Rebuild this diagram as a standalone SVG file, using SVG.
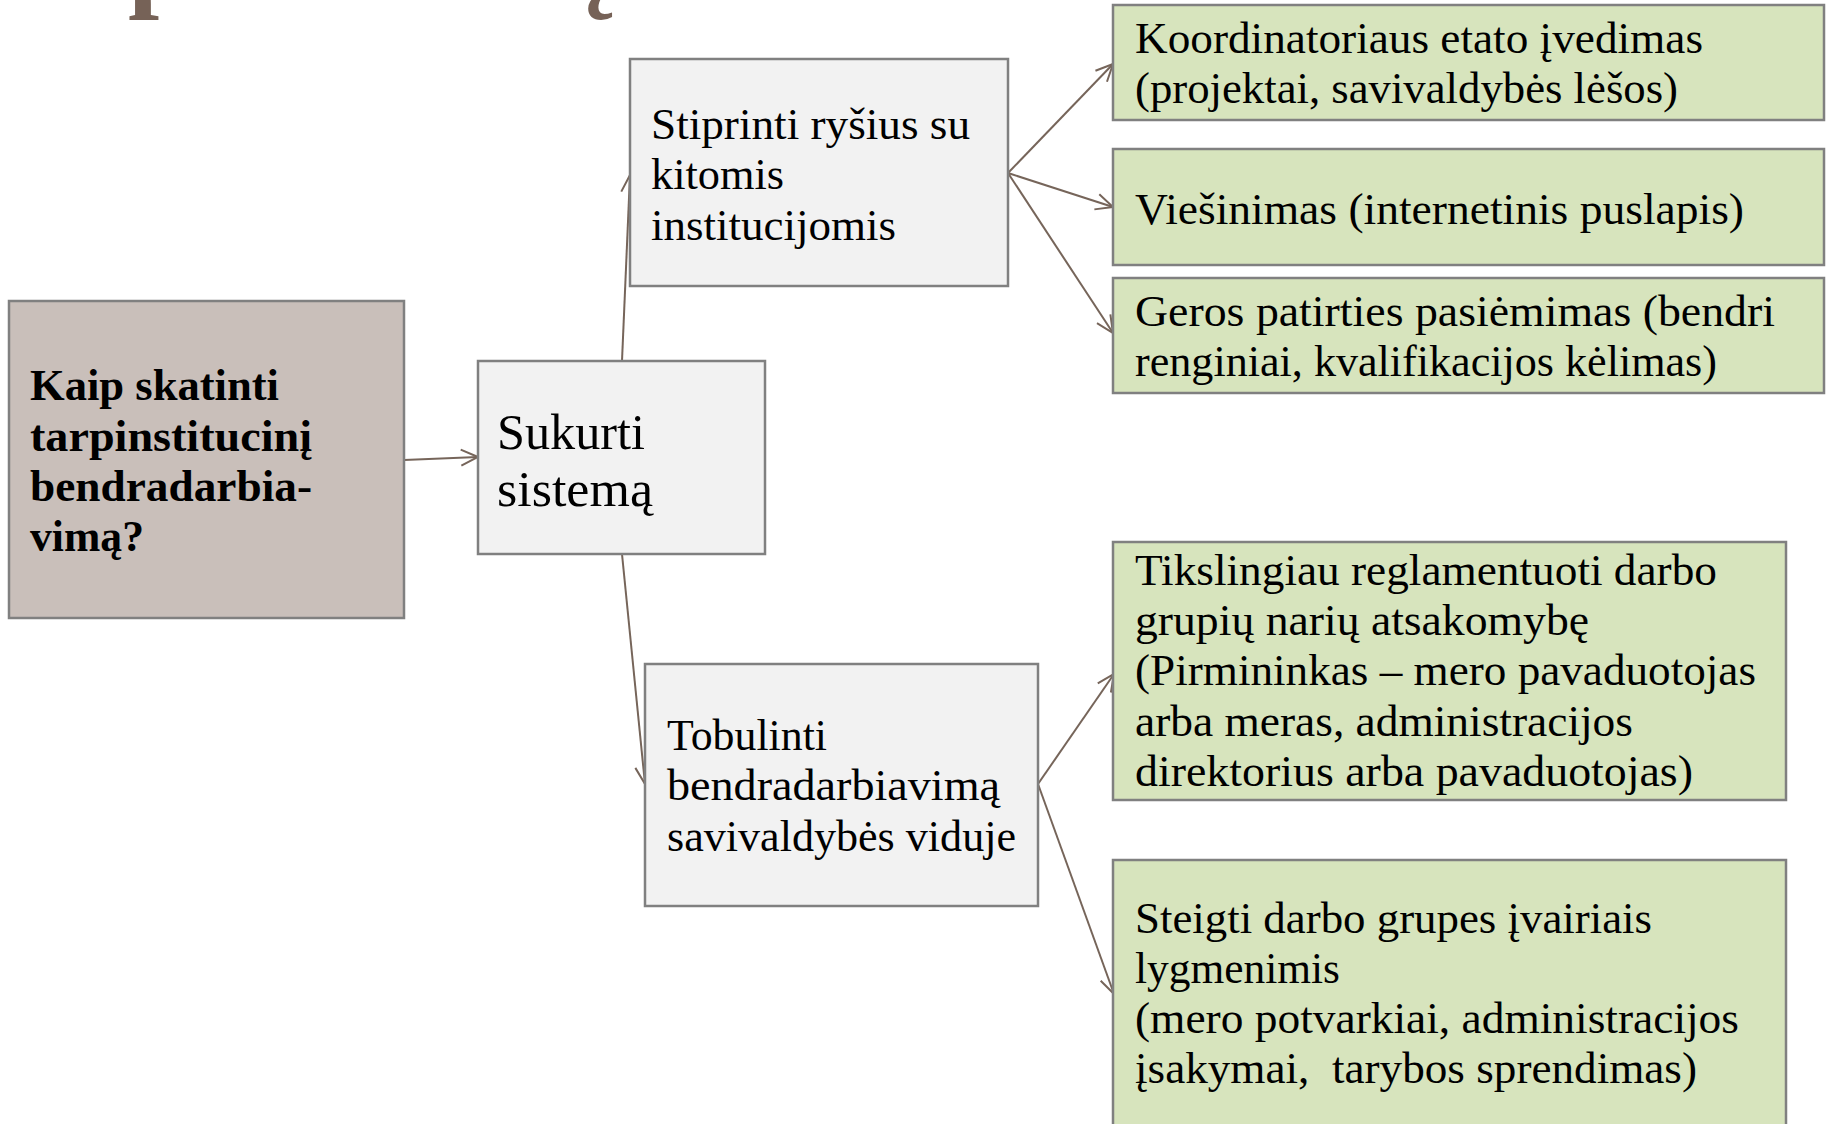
<svg xmlns="http://www.w3.org/2000/svg" width="1829" height="1124" viewBox="0 0 1829 1124">
<style>
.box{stroke:#808080;stroke-width:2.5}
.grey{fill:#F2F2F2}
.green{fill:#D7E4BD}
.main{fill:#C9BFBA}
.t{font-family:"Liberation Serif","Times New Roman",serif;font-size:44px;fill:#000}
.tb{font-family:"Liberation Serif","Times New Roman",serif;font-size:45px;font-weight:bold;fill:#000}
.ts{font-family:"Liberation Serif","Times New Roman",serif;font-size:50px;fill:#000}
.title{font-family:"Liberation Serif","Times New Roman",serif;font-size:112px;font-weight:bold;fill:#766257}
.conn{stroke:#76655A;stroke-width:2;fill:none;marker-end:url(#arr)}
</style>
<defs>
<marker id="arr" viewBox="0 0 20 20" refX="19" refY="10" markerWidth="20" markerHeight="20" markerUnits="userSpaceOnUse" orient="auto">
<path d="M2,2 L19,10 L2,18" fill="none" stroke="#76655A" stroke-width="2"/>
</marker>
</defs>
<g id="title-fragments">
<text class="title" x="128" y="-4">p</text>
<text class="title" x="559" y="-4">ą</text>
</g>
<g id="connectors">
<line class="conn" x1="404" y1="460" x2="478" y2="457"/>
<line class="conn" x1="622" y1="361" x2="630" y2="175"/>
<line class="conn" x1="622" y1="554" x2="645" y2="784"/>
<line class="conn" x1="1008" y1="173" x2="1113" y2="64"/>
<line class="conn" x1="1008" y1="173" x2="1113" y2="207"/>
<line class="conn" x1="1008" y1="173" x2="1113" y2="333"/>
<line class="conn" x1="1038" y1="784" x2="1114" y2="674"/>
<line class="conn" x1="1038" y1="784" x2="1114" y2="994"/>
</g>
<g id="node-main">
<rect class="box main" x="9" y="301" width="395" height="317"/>
<text class="tb" x="30" y="400" textLength="249" lengthAdjust="spacingAndGlyphs">Kaip skatinti</text>
<text class="tb" x="30" y="450.5" textLength="282" lengthAdjust="spacingAndGlyphs">tarpinstitucinį</text>
<text class="tb" x="30" y="501" textLength="282" lengthAdjust="spacingAndGlyphs">bendradarbia-</text>
<text class="tb" x="30" y="551" textLength="114" lengthAdjust="spacingAndGlyphs">vimą?</text>
</g>
<g id="node-sukurti">
<rect class="box grey" x="478" y="361" width="287" height="193"/>
<text class="ts" x="497" y="449" textLength="148" lengthAdjust="spacingAndGlyphs">Sukurti</text>
<text class="ts" x="497" y="506" textLength="156" lengthAdjust="spacingAndGlyphs">sistemą</text>
</g>
<g id="node-stiprinti">
<rect class="box grey" x="630" y="59" width="378" height="227"/>
<text class="t" x="651" y="139" textLength="319" lengthAdjust="spacingAndGlyphs">Stiprinti ryšius su</text>
<text class="t" x="651" y="189" textLength="133" lengthAdjust="spacingAndGlyphs">kitomis</text>
<text class="t" x="651" y="240" textLength="245" lengthAdjust="spacingAndGlyphs">institucijomis</text>
</g>
<g id="node-tobulinti">
<rect class="box grey" x="645" y="664" width="393" height="242"/>
<text class="t" x="667" y="750" textLength="160" lengthAdjust="spacingAndGlyphs">Tobulinti</text>
<text class="t" x="667" y="800" textLength="333" lengthAdjust="spacingAndGlyphs">bendradarbiavimą</text>
<text class="t" x="667" y="851" textLength="349" lengthAdjust="spacingAndGlyphs">savivaldybės viduje</text>
</g>
<g id="node-koordinatorius">
<rect class="box green" x="1113" y="5" width="711" height="115"/>
<text class="t" x="1135" y="53" textLength="568" lengthAdjust="spacingAndGlyphs">Koordinatoriaus etato įvedimas</text>
<text class="t" x="1135" y="103" textLength="543" lengthAdjust="spacingAndGlyphs">(projektai, savivaldybės lėšos)</text>
</g>
<g id="node-viesinimas">
<rect class="box green" x="1113" y="149" width="711" height="116"/>
<text class="t" x="1135" y="224" textLength="609" lengthAdjust="spacingAndGlyphs">Viešinimas (internetinis puslapis)</text>
</g>
<g id="node-patirtis">
<rect class="box green" x="1113" y="278" width="711" height="115"/>
<text class="t" x="1135" y="326" textLength="640" lengthAdjust="spacingAndGlyphs">Geros patirties pasiėmimas (bendri</text>
<text class="t" x="1135" y="376" textLength="582" lengthAdjust="spacingAndGlyphs">renginiai, kvalifikacijos kėlimas)</text>
</g>
<g id="node-reglamentuoti">
<rect class="box green" x="1113" y="542" width="673" height="258"/>
<text class="t" x="1135" y="585" textLength="582" lengthAdjust="spacingAndGlyphs">Tikslingiau reglamentuoti darbo</text>
<text class="t" x="1135" y="635" textLength="454" lengthAdjust="spacingAndGlyphs">grupių narių atsakomybę</text>
<text class="t" x="1135" y="685" textLength="621" lengthAdjust="spacingAndGlyphs">(Pirmininkas – mero pavaduotojas</text>
<text class="t" x="1135" y="736" textLength="498" lengthAdjust="spacingAndGlyphs">arba meras, administracijos</text>
<text class="t" x="1135" y="786" textLength="558" lengthAdjust="spacingAndGlyphs">direktorius arba pavaduotojas)</text>
</g>
<g id="node-steigti">
<rect class="box green" x="1113" y="860" width="673" height="270"/>
<text class="t" x="1135" y="933" textLength="517" lengthAdjust="spacingAndGlyphs">Steigti darbo grupes įvairiais</text>
<text class="t" x="1135" y="983" textLength="205" lengthAdjust="spacingAndGlyphs">lygmenimis</text>
<text class="t" x="1135" y="1033" textLength="604" lengthAdjust="spacingAndGlyphs">(mero potvarkiai, administracijos</text>
<text class="t" x="1135" y="1083" textLength="562" lengthAdjust="spacingAndGlyphs" xml:space="preserve" style="white-space:pre">įsakymai,  tarybos sprendimas)</text>
</g>
</svg>
